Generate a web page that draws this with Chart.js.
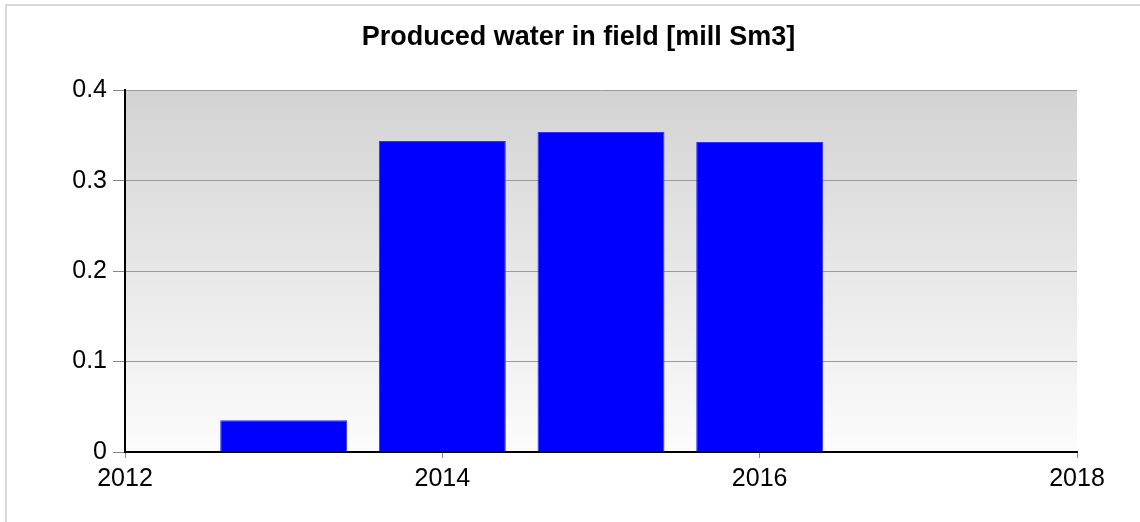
<!DOCTYPE html>
<html>
<head>
<meta charset="utf-8">
<script src="https://cdn.jsdelivr.net/npm/chart.js@4/dist/chart.umd.min.js"></script>
<style>
    html, body { margin: 0; padding: 0; background: #ffffff; }
    #wrap { position: relative; width: 1140px; height: 522px; }
</style>
</head>
<body>
<div id="wrap"><canvas id="waterChart" width="1140" height="522"></canvas></div>
<script>
// Data
const years = [2013, 2014, 2015, 2016];
const producedWater = [0.035, 0.344, 0.354, 0.343];
const xTicks = [2012, 2014, 2016, 2018];
const yTicks = [0, 0.1, 0.2, 0.3, 0.4];

const FONT = '"Liberation Sans", Arial, sans-serif';

// gray gradient behind the plot area + light frame round the figure
const backdrop = {
    id: 'backdrop',
    beforeDraw(chart) {
        const ctx = chart.ctx;
        const a = chart.chartArea;
        ctx.save();
        ctx.strokeStyle = '#d9d9d9';
        ctx.lineWidth = 2;
        ctx.strokeRect(6, 5, 1300, 700);
        const g = ctx.createLinearGradient(0, a.top, 0, a.bottom);
        g.addColorStop(0, '#d3d3d3');
        g.addColorStop(1, '#fcfcfc');
        ctx.fillStyle = g;
        ctx.fillRect(a.left, a.top, a.right - a.left, a.bottom - a.top);
        ctx.restore();
    }
};

const ctx = document.getElementById('waterChart').getContext('2d');
const waterChart = new Chart(ctx, {
    type: 'bar',
    data: {
        datasets: [{
            label: 'Produced water',
            data: years.map((y, i) => ({ x: y, y: producedWater[i] })),
            backgroundColor: '#0000ff',
            borderColor: '#3030ff',
            borderWidth: 1,
            categoryPercentage: 1,
            barPercentage: 0.8
        }]
    },
    options: {
        responsive: false,
        animation: false,
        layout: { padding: { left: 40, right: 23, top: 0, bottom: 0 } },
        plugins: {
            legend: { display: false },
            tooltip: { enabled: false },
            title: {
                display: true,
                text: 'Produced water in field [mill Sm3]',
                color: '#000000',
                font: { family: FONT, size: 27, weight: 'bold' },
                padding: { top: 21, bottom: 37 }
            }
        },
        scales: {
            x: {
                type: 'linear',
                min: 2012,
                max: 2018,
                offset: false,
                afterBuildTicks: axis => { axis.ticks = xTicks.map(v => ({ value: v })); },
                afterFit: axis => {
                    axis.height = 70;
                    axis.paddingRight = 63;
                },
                ticks: {
                    color: '#000000',
                    font: { family: FONT, size: 25 },
                    padding: 6,
                    maxRotation: 0,
                    callback: v => String(v)
                },
                grid: {
                    offset: false,
                    drawOnChartArea: false,
                    drawTicks: true,
                    tickLength: 6,
                    tickColor: '#888888'
                },
                border: { display: true, color: '#000000', width: 2 }
            },
            y: {
                min: 0,
                max: 0.4,
                afterBuildTicks: axis => { axis.ticks = yTicks.map(v => ({ value: v })); },
                afterFit: axis => { axis.width = 85; },
                ticks: {
                    color: '#000000',
                    font: { family: FONT, size: 25 },
                    padding: 6,
                    callback: v => String(Math.round(v * 10) / 10)
                },
                grid: {
                    color: '#9a9a9a',
                    lineWidth: 1,
                    drawTicks: true,
                    tickLength: 12,
                    tickColor: '#888888'
                },
                border: { display: true, color: '#000000', width: 2 }
            }
        }
    },
    plugins: [backdrop]
});
</script>
</body>
</html>
